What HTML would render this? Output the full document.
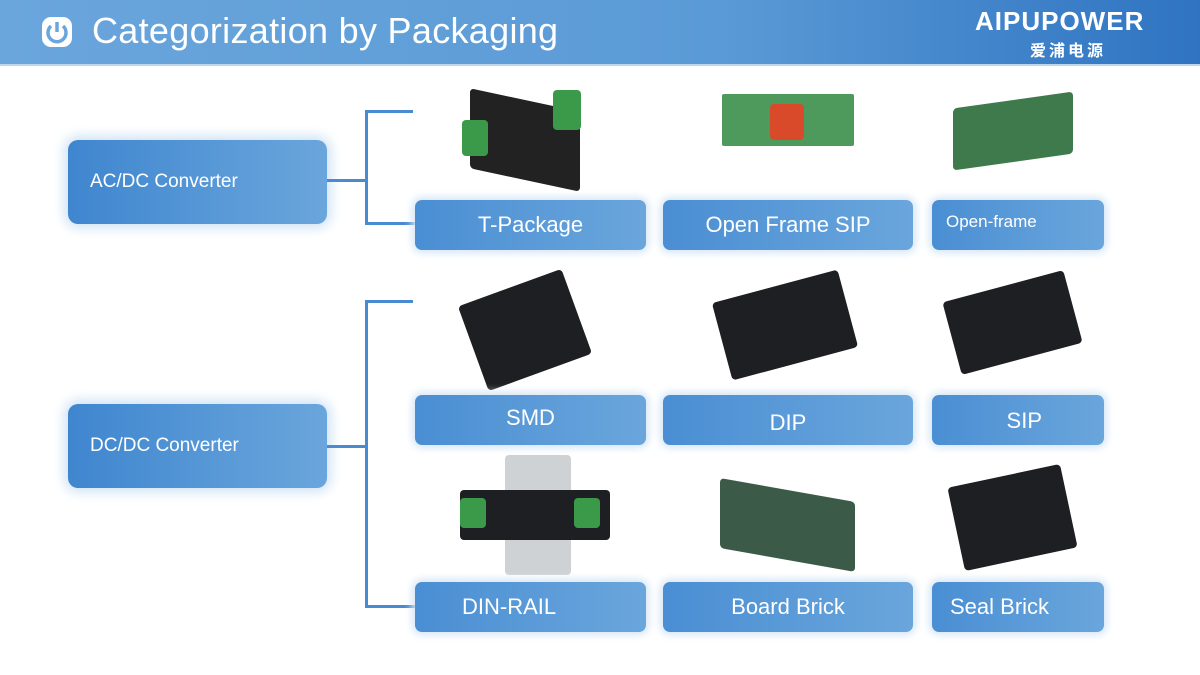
<!DOCTYPE html>
<html><head><meta charset="utf-8"><style>
body{margin:0;width:1200px;height:675px;overflow:hidden;background:#fff;font-family:"Liberation Sans","Noto Sans CJK SC",sans-serif;position:relative}
.hdr{position:absolute;left:0;top:0;width:1200px;height:64px;background:linear-gradient(90deg,#6aa6dc,#5a9ad6 60%,#2f74c2);border-bottom:2px solid #bcd6f0}
.title{position:absolute;left:92px;top:10px;font-size:36px;color:#fff;letter-spacing:0.3px}
.logo{position:absolute;left:975px;top:6px;color:#fff;font-size:26px;font-weight:bold;letter-spacing:1px}
.logo2{position:absolute;left:1030px;top:37px;color:#fff;font-size:16px;font-weight:bold;letter-spacing:3px}
.cat{position:absolute;width:259px;height:84px;border-radius:10px;background:linear-gradient(90deg,#3f86cf,#6aa6dc);box-shadow:0 0 12px 4px #cfe2f5;color:#fff;font-size:19px;box-sizing:border-box;padding-left:22px;line-height:84px}
.b{position:absolute;height:50px;border-radius:7px;background:linear-gradient(90deg,#4a8ed3,#6aa6dc);box-shadow:0 0 8px 3px #d5e6f6;color:#fff;font-size:22px;text-align:center;line-height:50px}
.l{position:absolute;background:#4a8ad0}
.img{position:absolute;background:#1e1f22;border-radius:4px}
</style></head><body>
<div class="hdr"></div>
<svg style="position:absolute;left:40px;top:15px" width="34" height="34" viewBox="0 0 34 34"><rect x="2" y="2" width="30" height="30" rx="9" fill="#fff"/><path d="M11 11 A9 9 0 1 0 23 11" stroke="#6aa6dc" stroke-width="3.5" fill="none"/><line x1="17" y1="7" x2="17" y2="17" stroke="#6aa6dc" stroke-width="3.5"/></svg>
<div class="title">Categorization by Packaging</div>
<div class="logo">AIPUPOWER</div>
<div class="logo2">爱浦电源</div>

<div class="cat" style="left:68px;top:140px">AC/DC Converter</div>
<div class="cat" style="left:68px;top:404px">DC/DC Converter</div>

<div class="l" style="left:327px;top:179px;width:40px;height:3px"></div>
<div class="l" style="left:365px;top:110px;width:3px;height:115px"></div>
<div class="l" style="left:365px;top:110px;width:48px;height:3px"></div>
<div class="l" style="left:365px;top:222px;width:50px;height:3px"></div>

<div class="l" style="left:327px;top:445px;width:40px;height:3px"></div>
<div class="l" style="left:365px;top:300px;width:3px;height:308px"></div>
<div class="l" style="left:365px;top:300px;width:48px;height:3px"></div>
<div class="l" style="left:365px;top:605px;width:50px;height:3px"></div>

<div class="img" style="left:470px;top:100px;width:110px;height:80px;transform:skewY(12deg);background:#222"></div>
<div class="img" style="left:553px;top:90px;width:28px;height:40px;background:#3a9a4a"></div>
<div class="img" style="left:462px;top:120px;width:26px;height:36px;background:#3a9a4a"></div>
<div class="img" style="left:722px;top:94px;width:132px;height:52px;background:#4e9a5c;border-radius:2px"></div>
<div class="img" style="left:770px;top:104px;width:34px;height:36px;background:#d84a2a"></div>
<div class="img" style="left:953px;top:100px;width:120px;height:62px;background:#3f7a4c;transform:skewY(-8deg)"></div>
<div class="img" style="left:470px;top:285px;width:110px;height:90px;transform:rotate(-20deg)"></div>
<div class="img" style="left:720px;top:285px;width:130px;height:80px;transform:rotate(-15deg)"></div>
<div class="img" style="left:950px;top:285px;width:125px;height:75px;transform:rotate(-15deg)"></div>
<div class="img" style="left:505px;top:455px;width:66px;height:120px;background:#cfd2d4"></div>
<div class="img" style="left:460px;top:490px;width:150px;height:50px"></div>
<div class="img" style="left:460px;top:498px;width:26px;height:30px;background:#3a9a4a"></div>
<div class="img" style="left:574px;top:498px;width:26px;height:30px;background:#3a9a4a"></div>
<div class="img" style="left:720px;top:490px;width:135px;height:70px;background:#3b5a48;transform:skewY(10deg)"></div>
<div class="img" style="left:955px;top:475px;width:115px;height:85px;transform:rotate(-12deg)"></div>

<div class="b" style="left:415px;top:200px;width:231px">T-Package</div>
<div class="b" style="left:663px;top:200px;width:250px">Open Frame SIP</div>
<div class="b" style="left:932px;top:200px;width:172px;font-size:17px;line-height:44px;text-align:left;padding-left:14px;box-sizing:border-box">Open-frame</div>
<div class="b" style="left:415px;top:395px;width:231px;line-height:46px">SMD</div>
<div class="b" style="left:663px;top:395px;width:250px;line-height:56px">DIP</div>
<div class="b" style="left:932px;top:395px;width:172px;text-align:right;padding-right:62px;box-sizing:border-box;line-height:52px">SIP</div>
<div class="b" style="left:415px;top:582px;width:231px;text-align:left;padding-left:47px;box-sizing:border-box">DIN-RAIL</div>
<div class="b" style="left:663px;top:582px;width:250px">Board Brick</div>
<div class="b" style="left:932px;top:582px;width:172px;text-align:left;padding-left:18px;box-sizing:border-box">Seal Brick</div>
</body></html>
